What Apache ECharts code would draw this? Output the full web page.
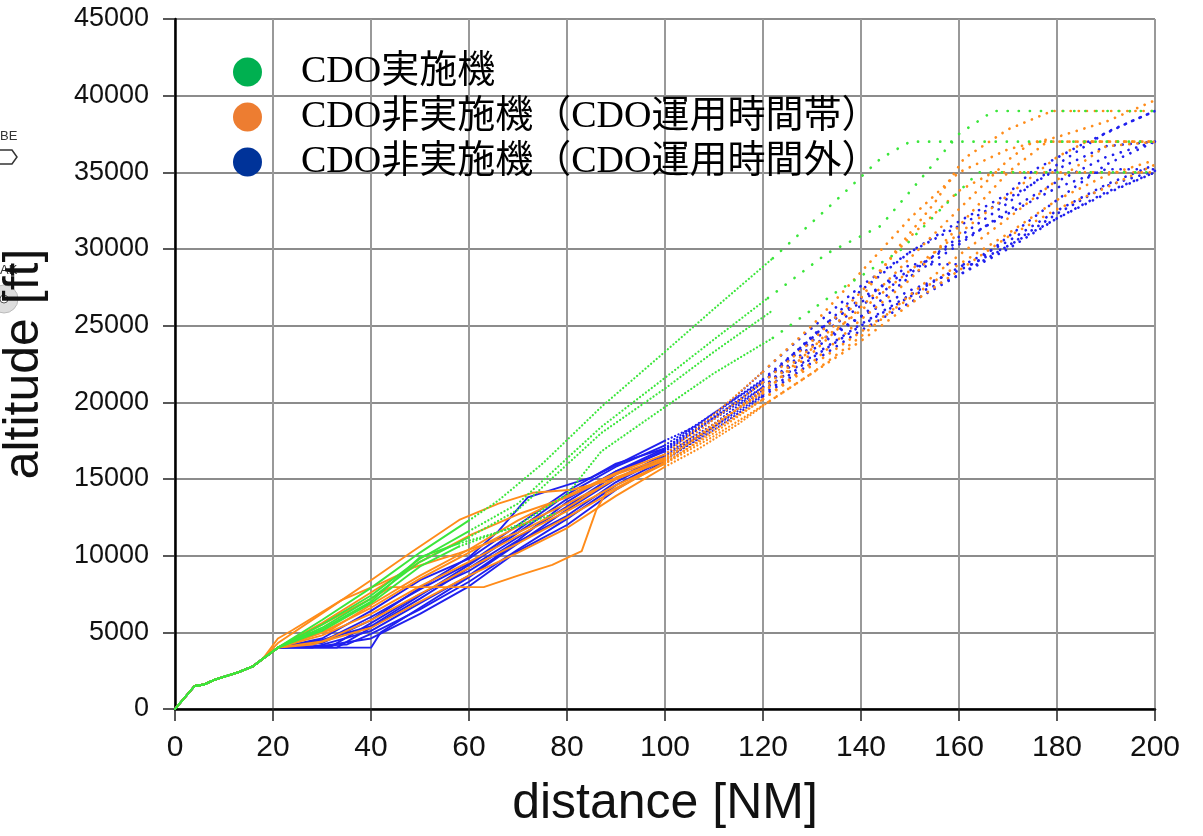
<!DOCTYPE html>
<html>
<head>
<meta charset="utf-8">
<script src="https://cdn.jsdelivr.net/npm/echarts@6/dist/echarts.min.js"></script>
<style>
  html, body { margin: 0; padding: 0; background: #fff; }
  #main { width: 1203px; height: 836px; }
</style>
</head>
<body>
<div id="main"></div>
<script>
// 軸の範囲 [min, max, interval]
const distRange = [0, 200, 20];
const altRange = [0, 45000, 5000];

const groupNames = ['CDO実施機', 'CDO非実施機（CDO運用時間帯）', 'CDO非実施機（CDO運用時間外）'];
const legendColors = ['#00b050', '#ed7d31', '#003399'];
const trackColors = ['#3be63b', '#ff8c1a', '#2020ee'];

// 離陸直後の共通部分 [distance NM, altitude ft]
const departure = [[0, 0], [4, 1500], [6, 1600], [8, 1900], [13, 2400], [16, 2800], [18, 3300]];

// CDO実施機
const greenTracks = [
  [[21, 4000], [30, 5800], [40, 7900], [50, 10200], [60, 12300], [66, 13600], [75, 16000], [87, 19700], [100, 23300], [110, 26100], [122, 29400], [134, 32900], [144, 35900], [150, 37000], [200, 37000]],
  [[21, 4000], [30, 5500], [40, 7400], [50, 9800], [60, 11600], [70, 13400], [87, 18400], [100, 21600], [110, 24100], [121, 26800], [133, 29700], [144, 31500], [152, 34500], [160, 37500], [167, 39000], [200, 39000]],
  [[21, 4000], [30, 5300], [40, 7200], [50, 9600], [60, 11200], [70, 13000], [87, 18000], [100, 20900], [110, 23300], [122, 26000]],
  [[21, 4000], [30, 5100], [40, 6900], [50, 9300], [58, 10600], [70, 12000], [80, 14000], [87, 16800], [100, 19700], [110, 21900], [122, 24200], [135, 27200], [148, 29900], [156, 32500], [164, 35000], [200, 35000]],
  [[21, 4000], [30, 5200], [40, 7000], [50, 9900], [58, 10800], [70, 11900], [78, 12800]]
];

// CDO非実施機（運用時間帯）
const orangeTracks = [
  [[21, 4300], [31, 6450], [40, 8400], [48, 10170], [58, 12330], [66, 13400], [73, 14100], [81, 14300], [90, 15000], [100, 16200], [110, 18600], [120, 20600], [130, 23500], [140, 26800], [148, 30260], [155, 33000], [161, 35900], [170, 37800], [179, 39000], [200, 39000]],
  [[21, 4000], [30, 5500], [40, 7200], [44, 7950], [63, 7950], [70, 8700], [77, 9400], [81, 10000], [83, 10300], [86, 13000], [88, 14100], [100, 16000], [110, 18200], [120, 20200], [130, 22400], [140, 24600], [150, 26800], [160, 29000], [170, 31000], [180, 33200], [190, 34800], [200, 35800]],
  [[21, 4000], [30, 5600], [40, 7600], [50, 9600], [60, 11300], [70, 12700], [80, 13800], [90, 15300], [100, 16400], [110, 18900], [120, 21300], [130, 24000], [140, 27200], [150, 30800], [160, 33800], [167, 35000], [200, 35000]],
  [[21, 4000], [30, 5000], [40, 6600], [50, 8500], [60, 10200], [70, 11900], [80, 13400], [90, 15000], [100, 16300], [110, 18400], [120, 20900], [130, 23600], [140, 26000], [150, 28600], [160, 31000], [170, 33500], [180, 36000], [186, 37000], [200, 37000]],
  [[21, 4000], [30, 4800], [40, 6200], [50, 8000], [60, 9600], [70, 11300], [80, 12900], [90, 14600], [100, 16000], [110, 17800], [120, 19800], [130, 21900], [140, 24300], [150, 27000], [160, 29600], [170, 32000], [180, 34500], [190, 36700], [200, 37000]],
  [[21, 4000], [30, 4400], [40, 5800], [50, 7500], [60, 9200], [70, 10800], [80, 12500], [90, 14300], [100, 16100], [110, 18000], [120, 20200], [130, 22600], [140, 25400], [150, 28000], [160, 31500], [170, 35000], [178, 37000], [200, 37000]],
  [[21, 4000], [28, 4200], [40, 5300], [50, 7000], [60, 8700], [70, 10200], [80, 11800], [90, 13900], [100, 15800], [107, 17000], [115, 18600], [121, 20000], [130, 21900], [140, 24000], [150, 26400], [160, 28600], [170, 30800], [180, 32600], [190, 34000], [200, 35500]],
  [[21, 4000], [32, 5200], [40, 6800], [50, 8700], [60, 10400], [70, 12300], [80, 13900], [90, 15400], [100, 16600], [110, 19200], [120, 22000], [130, 25000], [140, 28500], [150, 32000], [160, 35000], [170, 36500], [180, 37300], [190, 38300], [200, 39700]],
  [[21, 4600], [24, 5150], [34, 7100], [42, 8200], [49, 9260], [58, 10170], [70, 11500], [80, 13100], [90, 15100], [100, 16300], [110, 18500], [120, 20700], [130, 23200], [140, 26200], [150, 29400], [160, 32600], [170, 35800], [175, 37000], [200, 37000]]
];

// CDO非実施機（運用時間外）
const blueTracks = [
  [[21, 4000], [40, 4000], [42, 5000], [50, 6600], [60, 8600], [70, 10800], [80, 13000], [90, 15000], [100, 16600], [110, 18600], [120, 21000], [130, 23700], [140, 25600], [150, 27300], [160, 28600], [170, 30200], [180, 32000], [190, 33600], [200, 35000]],
  [[21, 4000], [33, 4000], [40, 5300], [50, 7200], [60, 9200], [70, 11200], [80, 13200], [90, 15300], [100, 16900], [110, 19000], [120, 21300], [130, 24200], [140, 26800], [150, 28600], [160, 30500], [170, 32300], [180, 34000], [190, 35200], [200, 35200]],
  [[21, 4000], [30, 4300], [40, 5800], [50, 7900], [60, 9900], [66, 11600], [72, 13800], [85, 15100], [100, 17500], [110, 19000], [115, 20100], [120, 21300], [125, 22800], [133, 25200], [140, 26500], [145, 27800], [150, 29000], [163, 29000], [170, 30800], [180, 33200], [190, 35500], [200, 37000]],
  [[21, 4000], [30, 4400], [40, 6000], [50, 7800], [60, 9500], [70, 11700], [80, 14000], [90, 15800], [100, 17200], [110, 19300], [120, 21500], [130, 24200], [140, 27300], [150, 29800], [160, 31800], [170, 33600], [175, 35100], [185, 36800], [195, 38300], [200, 39000]],
  [[21, 4000], [28, 4000], [40, 5100], [50, 6900], [60, 8700], [70, 10900], [80, 12600], [90, 14800], [100, 16500], [110, 18400], [120, 20500], [130, 22900], [140, 25000], [150, 26900], [160, 28300], [170, 30000], [180, 32000], [190, 33700], [200, 35000]],
  [[21, 4000], [35, 4200], [40, 4900], [50, 6500], [60, 8300], [70, 10400], [80, 12400], [90, 14600], [100, 16300], [110, 18200], [120, 20400], [130, 22600], [140, 24700], [150, 26500], [160, 28300], [170, 30200], [180, 32300], [190, 34100], [200, 35100]],
  [[21, 4000], [30, 4600], [40, 6400], [50, 8400], [60, 9800], [70, 12000], [80, 14200], [90, 16000], [100, 17000], [110, 19100], [120, 22000], [128, 24300], [140, 27600], [150, 29800], [160, 31500], [170, 33300], [180, 35200], [190, 36700], [200, 37000]],
  [[21, 4000], [32, 4100], [40, 5600], [50, 7500], [60, 9000], [70, 11000], [80, 13500], [90, 15500], [100, 16800], [110, 18900], [120, 21000], [130, 23400], [140, 25600], [150, 28200], [160, 30300], [170, 32500], [180, 34400], [190, 36000], [200, 37000]],
  [[21, 4000], [30, 4100], [40, 4600], [50, 6200], [60, 8000], [70, 10300], [80, 12000], [90, 14300], [100, 16200], [110, 18400], [120, 20800], [130, 23000], [140, 25100], [150, 27000], [160, 28800], [170, 30500], [180, 32500], [190, 34200], [200, 35500]],
  [[21, 4000], [30, 4500], [40, 5400], [50, 7400], [60, 9400], [70, 11500], [80, 13700], [90, 15500], [100, 17000], [110, 19300], [120, 21400], [130, 24000], [140, 26300], [150, 28400], [160, 30800], [170, 33000], [180, 35500], [190, 37600], [200, 39000]]
];

// 実線→密な点線→疎な点線 に切り替える距離
const greenCuts = [55, 120];
const otherCuts = [95, 120];

function cutTrack(pts, cuts) {
  const segs = [[]];
  let k = 0;
  pts.forEach(p => {
    segs[segs.length - 1].push(p);
    while (k < cuts.length && p[0] >= cuts[k]) { k++; segs.push([p]); }
  });
  return segs;
}

function dashStyles(sparseGap) {
  return [
    { type: 'solid', width: 1.9 },
    { type: [0.1, 3.6], width: 2.2 },
    { type: [0.1, sparseGap], width: 2.7 }
  ];
}

const groups = [
  { name: groupNames[2], color: trackColors[2], tracks: blueTracks, cuts: otherCuts, styles: dashStyles(8), z: 3 },
  { name: groupNames[1], color: trackColors[1], tracks: orangeTracks, cuts: otherCuts, styles: dashStyles(8), z: 4 },
  { name: groupNames[0], color: trackColors[0], tracks: greenTracks, cuts: greenCuts, styles: dashStyles(11), z: 5 }
];

const series = [];
groups.forEach(g => {
  g.tracks.forEach(t => {
    cutTrack(departure.concat(t), g.cuts).forEach((seg, i) => {
      if (seg.length < 2) return;
      series.push({
        type: 'line',
        name: g.name,
        data: seg,
        showSymbol: false,
        silent: true,
        z: g.z,
        lineStyle: { color: g.color, width: g.styles[i].width, type: g.styles[i].type, cap: 'round', join: 'round' },
        itemStyle: { color: g.color }
      });
    });
  });
});

var myChart = echarts.init(document.getElementById('main'));
myChart.setOption({
  animation: false,
  backgroundColor: '#fff',
  grid: { left: 175, right: 48, top: 19, bottom: 127, outerBoundsMode: 'none', containLabel: false },
  legend: {
    orient: 'vertical',
    left: 228,
    top: 47,
    icon: 'circle',
    itemWidth: 29,
    itemHeight: 29,
    itemGap: 5,
    selectedMode: false,
    data: groupNames.map((n, i) => ({ name: n, itemStyle: { color: legendColors[i] } })),
    textStyle: {
      fontFamily: '"Liberation Serif", "Noto Sans CJK JP", serif',
      fontSize: 38,
      lineHeight: 40,
      color: '#000',
      padding: [0, 0, 0, 34]
    }
  },
  xAxis: {
    type: 'value',
    min: distRange[0], max: distRange[1], interval: distRange[2],
    name: 'distance [NM]',
    nameLocation: 'middle',
    nameGap: 70,
    nameTextStyle: { fontFamily: '"Liberation Sans", Arial, sans-serif', fontSize: 50, color: '#111' },
    axisLine: { lineStyle: { color: '#000', width: 2.5 } },
    axisTick: { length: 12, lineStyle: { color: '#222', width: 1.5 } },
    axisLabel: { margin: 24, fontFamily: '"Liberation Sans Narrow", "Liberation Sans", sans-serif', fontSize: 30, color: '#111' },
    splitLine: { lineStyle: { color: '#999', width: 2 } }
  },
  yAxis: {
    type: 'value',
    min: altRange[0], max: altRange[1], interval: altRange[2],
    name: 'altitude [ft]',
    nameLocation: 'middle',
    nameGap: 126,
    nameTextStyle: { fontFamily: '"Liberation Sans", Arial, sans-serif', fontSize: 50, color: '#111' },
    axisLine: { show: true, lineStyle: { color: '#000', width: 2.5 } },
    axisTick: { show: true, length: 12, lineStyle: { color: '#222', width: 1.5 } },
    axisLabel: { margin: 26, fontFamily: '"Liberation Sans", Arial, sans-serif', fontSize: 27, color: '#111', formatter: v => String(v) },
    splitLine: { lineStyle: { color: '#666', width: 1.5 } }
  },
  graphic: [
    { type: 'text', left: 0, top: 130, style: { text: 'BE', fontSize: 13, fill: '#333', fontFamily: '"Liberation Sans", sans-serif' } },
    { type: 'polygon', shape: { points: [[-2, 150], [12, 150], [17, 157], [12, 164], [-2, 164]] }, style: { fill: '#fff', stroke: '#333', lineWidth: 1.5 } },
    { type: 'text', left: 0, top: 264, style: { text: 'AK', fontSize: 13, fill: '#333', fontFamily: '"Liberation Sans", sans-serif' } },
    { type: 'circle', shape: { cx: 4, cy: 299, r: 14 }, style: { fill: '#ddd', stroke: '#bbb', lineWidth: 1 } },
    { type: 'circle', shape: { cx: 4, cy: 299, r: 4 }, style: { fill: '#fff', stroke: '#555', lineWidth: 1 } }
  ],
  series: series
});
</script>
</body>
</html>
